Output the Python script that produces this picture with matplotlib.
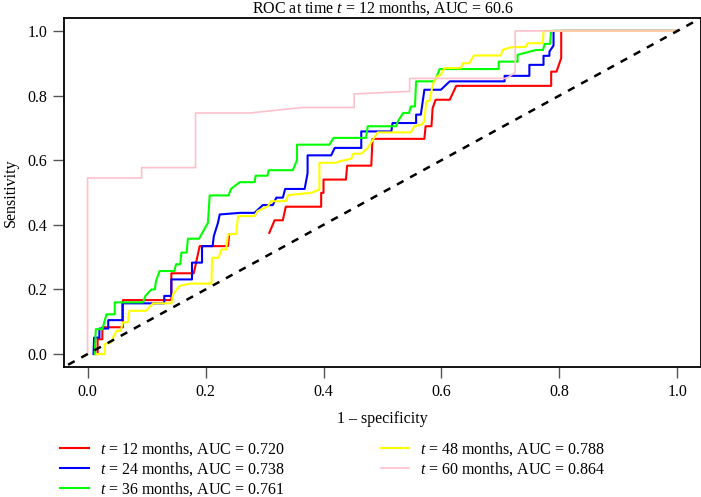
import matplotlib
matplotlib.use("Agg")
import matplotlib.pyplot as plt
import numpy as np

nan = np.nan

# ROC vertices (1 - specificity, sensitivity)
fpr_12 = [0.012, 0.017, 0.017, 0.025, 0.025, 0.060, 0.060, 0.142, 0.142, 0.180,
          0.190, 0.238, 0.240, nan, 0.308, 0.317, 0.331, 0.336, 0.396, 0.396,
          0.400, 0.400, 0.438, 0.440, 0.481, 0.483, 0.571, 0.573, 0.583, 0.585,
          0.590, 0.614, 0.625, 0.786, 0.786, 0.795, 0.803, 0.803, 1.000]
tpr_12 = [0.000, 0.000, 0.046, 0.046, 0.083, 0.083, 0.167, 0.167, 0.250, 0.250,
          0.334, 0.334, 0.370, nan, 0.375, 0.414, 0.414, 0.456, 0.456, 0.499,
          0.499, 0.540, 0.540, 0.583, 0.583, 0.666, 0.666, 0.705, 0.705, 0.761,
          0.787, 0.787, 0.830, 0.830, 0.874, 0.874, 0.916, 1.000, 1.000]

fpr_24 = [0.010, 0.011, 0.020, 0.020, 0.035, 0.035, 0.059, 0.059, 0.130, 0.130,
          0.142, 0.142, 0.177, 0.177, 0.194, 0.194, 0.212, 0.214, 0.221, 0.224,
          0.258, 0.283, 0.297, 0.314, 0.320, 0.331, 0.335, 0.368, 0.373, 0.373,
          0.413, 0.419, 0.464, 0.464, 0.515, 0.517, 0.557, 0.557, 0.565, 0.571,
          0.599, 0.614, 0.707, 0.707, 0.749, 0.749, 0.773, 0.773, 0.783, 0.783,
          0.790, 0.790, 1.000]
tpr_24 = [0.000, 0.051, 0.051, 0.079, 0.079, 0.105, 0.105, 0.157, 0.157, 0.180,
          0.180, 0.231, 0.231, 0.283, 0.283, 0.334, 0.334, 0.365, 0.406, 0.432,
          0.437, 0.437, 0.461, 0.461, 0.484, 0.484, 0.511, 0.511, 0.560, 0.615,
          0.615, 0.638, 0.638, 0.689, 0.689, 0.715, 0.715, 0.741, 0.741, 0.818,
          0.818, 0.844, 0.844, 0.861, 0.861, 0.895, 0.895, 0.923, 0.923, 0.936,
          0.955, 1.000, 1.000]

fpr_36 = [0.012, 0.014, 0.025, 0.032, 0.046, 0.046, 0.094, 0.098, 0.108, 0.114,
          0.116, 0.122, 0.147, 0.150, 0.157, 0.159, 0.168, 0.170, 0.189, 0.204,
          0.207, 0.239, 0.243, 0.258, 0.283, 0.285, 0.305, 0.307, 0.348, 0.355,
          0.355, 0.410, 0.417, 0.472, 0.475, 0.523, 0.526, 0.535, 0.545, 0.548,
          0.555, 0.557, 0.588, 0.594, 0.597, 0.697, 0.697, 0.729, 0.729, 0.760,
          0.772, 0.775, 0.784, 0.786, 1.000]
tpr_36 = [0.000, 0.077, 0.077, 0.123, 0.123, 0.160, 0.160, 0.180, 0.200, 0.200,
          0.226, 0.257, 0.257, 0.278, 0.278, 0.314, 0.314, 0.357, 0.357, 0.406,
          0.491, 0.491, 0.511, 0.532, 0.532, 0.552, 0.552, 0.569, 0.569, 0.600,
          0.648, 0.648, 0.669, 0.669, 0.705, 0.705, 0.720, 0.746, 0.746, 0.766,
          0.766, 0.844, 0.844, 0.869, 0.882, 0.882, 0.905, 0.905, 0.926, 0.941,
          0.941, 0.960, 0.960, 1.000, 1.000]

fpr_48 = [0.015, 0.029, 0.029, 0.040, 0.043, 0.049, 0.056, 0.060, 0.068, 0.071,
          0.099, 0.111, 0.142, 0.145, 0.156, 0.173, 0.210, 0.211, 0.222, 0.227,
          0.235, 0.238, 0.252, 0.255, 0.283, 0.288, 0.306, 0.311, 0.336, 0.340,
          0.379, 0.393, 0.393, 0.421, 0.430, 0.447, 0.450, 0.464, 0.475, 0.484,
          0.492, 0.548, 0.554, 0.566, 0.571, 0.574, 0.580, 0.585, 0.592, 0.599,
          0.605, 0.633, 0.636, 0.647, 0.655, 0.701, 0.703, 0.717, 0.743, 0.746,
          0.772, 0.773, 1.000]
tpr_48 = [0.000, 0.000, 0.031, 0.036, 0.051, 0.072, 0.072, 0.098, 0.098, 0.134,
          0.134, 0.157, 0.157, 0.185, 0.211, 0.218, 0.218, 0.298, 0.298, 0.324,
          0.324, 0.370, 0.372, 0.427, 0.427, 0.442, 0.458, 0.473, 0.473, 0.492,
          0.499, 0.509, 0.592, 0.592, 0.598, 0.604, 0.620, 0.620, 0.638, 0.664,
          0.686, 0.686, 0.705, 0.710, 0.720, 0.782, 0.784, 0.833, 0.859, 0.864,
          0.885, 0.885, 0.900, 0.900, 0.924, 0.924, 0.941, 0.949, 0.951, 0.962,
          0.962, 1.000, 1.000]

fpr_60 = [0.000, 0.000, 0.0915, 0.0915, 0.183, 0.183, 0.275, 0.364, 0.452, 0.452,
          0.546, 0.546, 0.710, 0.725, 0.725, 1.000]
tpr_60 = [0.000, 0.545, 0.545, 0.577, 0.577, 0.746, 0.746, 0.763, 0.763, 0.805,
          0.813, 0.853, 0.853, 0.871, 1.000, 1.000]

times = [12, 24, 36, 48, 60]
aucs = [0.720, 0.738, 0.761, 0.788, 0.864]
colors = ["#FF0000", "#0000FF", "#00FF00", "#FFFF00", "#FFC0CB"]
title_auc = 60.6

plt.rcParams["font.family"] = ["Liberation Serif", "DejaVu Serif"]
plt.rcParams["mathtext.fontset"] = "custom"
plt.rcParams["mathtext.rm"] = "Liberation Serif"
plt.rcParams["mathtext.it"] = "Liberation Serif:italic"

fig = plt.figure(figsize=(7.01, 4.97), dpi=100)
ax = fig.add_axes([64 / 701, 1 - 367 / 497, 637 / 701, 349 / 497])

curves = [(fpr_12, tpr_12), (fpr_24, tpr_24), (fpr_36, tpr_36),
          (fpr_48, tpr_48), (fpr_60, tpr_60)]
for (fx, ty), t, auc, c in zip(curves, times, aucs, colors):
    lw = 1.2 if t == 60 else 1.5
    ax.plot(fx, ty, color=c, lw=lw,
            label=f"$t$ = {t} months, AUC = {auc:.3f}")

ax.plot([-0.1, 1.1], [-0.1, 1.1], color="black", lw=1.8, ls=(0, (3, 3)))

ax.set_xlim(-0.04, 1.04)
ax.set_ylim(-0.04, 1.04)
ax.set_xticks(np.arange(0, 1.01, 0.2))
ax.set_yticks(np.arange(0, 1.01, 0.2))
ax.set_xticklabels([f"{v:.1f}" for v in np.arange(0, 1.01, 0.2)])
ax.set_yticklabels([f"{v:.1f}" for v in np.arange(0, 1.01, 0.2)])
ax.tick_params(length=8, width=1, color="#555555", labelsize=11.5, pad=4)
for s in ax.spines.values():
    s.set_linewidth(1.3)

ax.set_xlabel("1 – specificity", fontsize=11.5, labelpad=8)
ax.set_ylabel("Sensitivity", fontsize=11.5, labelpad=6)
ax.set_title(f"ROC at time $t$ = 12 months, AUC = {title_auc}", fontsize=11.5, pad=4)

fig.legend(loc="upper left", bbox_to_anchor=(60 / 701, 1 - 440 / 497), ncol=2,
           frameon=False, fontsize=11.5, handlelength=1.8, handletextpad=0.7,
           columnspacing=6.0, labelspacing=0.15, borderpad=0, borderaxespad=0)

fig.savefig("out.png", dpi=100, facecolor="white")
